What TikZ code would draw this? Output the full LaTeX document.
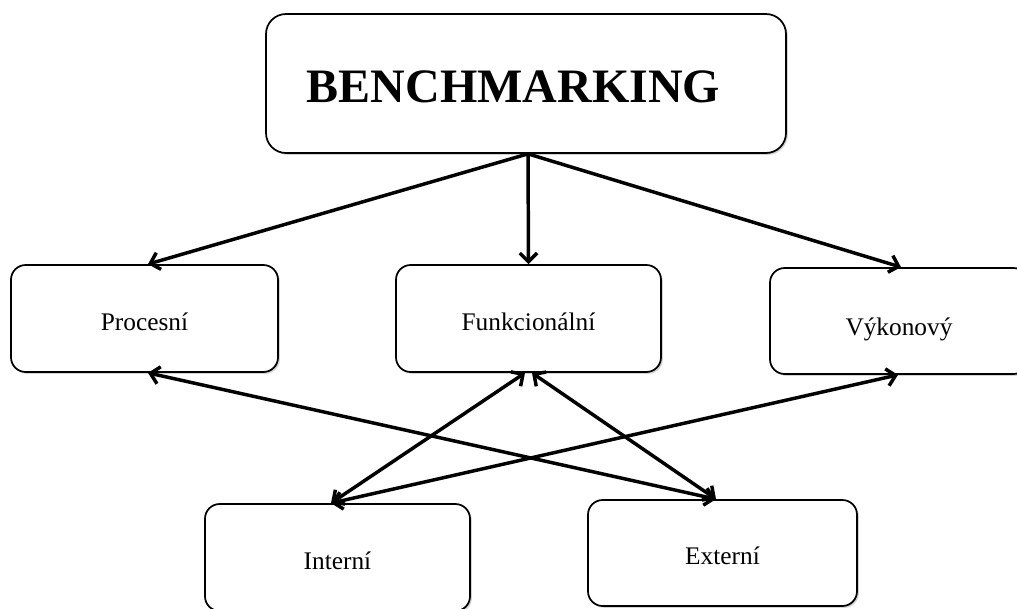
\documentclass[tikz,border=0pt]{standalone}
\usepackage{fontspec}
\setmainfont{Liberation Serif}
\usetikzlibrary{arrows.meta,shadows,calc}
\begin{document}
\begin{tikzpicture}[x=0.75pt,y=-0.75pt,
  box/.style={draw=black, line width=1.3pt, rounded corners=11pt, fill=white,
    inner sep=0pt, text depth=0pt,
    drop shadow={shadow xshift=1.4pt, shadow yshift=-1.4pt, opacity=0.35}},
  small/.style={box, minimum height=80.25pt, text height=17.25pt,
    font=\fontsize{19}{21}\selectfont},
  barb/.tip={Straight Barb[length=6.5pt,width=13pt]},
  link/.style={line width=2.6pt, -barb},
  both/.style={line width=2.6pt, barb-barb}]
\useasboundingbox (0,0) rectangle (1017,608);

% boxes
\node[box, minimum width=390pt, minimum height=104.25pt, rounded corners=15pt,
  text height=27.75pt, font=\fontsize{36}{40}\selectfont\bfseries]
  (bench) at (526,83.5) {BENCHMARKING\hspace*{18.75pt}};
\node[small, minimum width=200.25pt] (proc) at (144.5,318.5) {Procesní};
\node[small, minimum width=198.75pt] (func) at (528.5,318.5) {Funkcionální};
\node[small, minimum width=193.5pt, minimum height=79.5pt, text height=21pt]
  (vyk) at (899,321) {Výkonový};
\node[small, minimum width=198.75pt] (int) at (337.5,557.5) {Interní};
\node[small, minimum width=201.75pt, minimum height=79.5pt, text height=16.5pt]
  (ext) at (722.5,553) {Externí};

% from the top box down to the three types
\coordinate (root) at ($(bench.south)+(2,0)$);
\draw[link] (root) -- ($(proc.north)+(3.5,0)$);
\draw[link] (root) -- (func.north);
\draw[link] (root) -- ($(vyk.north)+(2,0)$);

% crossing links between the rows
\coordinate (intTop) at ($(int.north)+(-6.5,0)$);
\coordinate (extTop) at ($(ext.north)+(-6.5,0)$);
\draw[both] (intTop) -- ($(func.south)+(-3.5,0)$);
\draw[both] (intTop) -- ($(vyk.south)+(-1,0)$);
\draw[both] (extTop) -- ($(func.south)+(3.5,0)$);
\draw[both] (extTop) -- ($(proc.south)+(3.5,0)$);
\end{tikzpicture}
\end{document}
